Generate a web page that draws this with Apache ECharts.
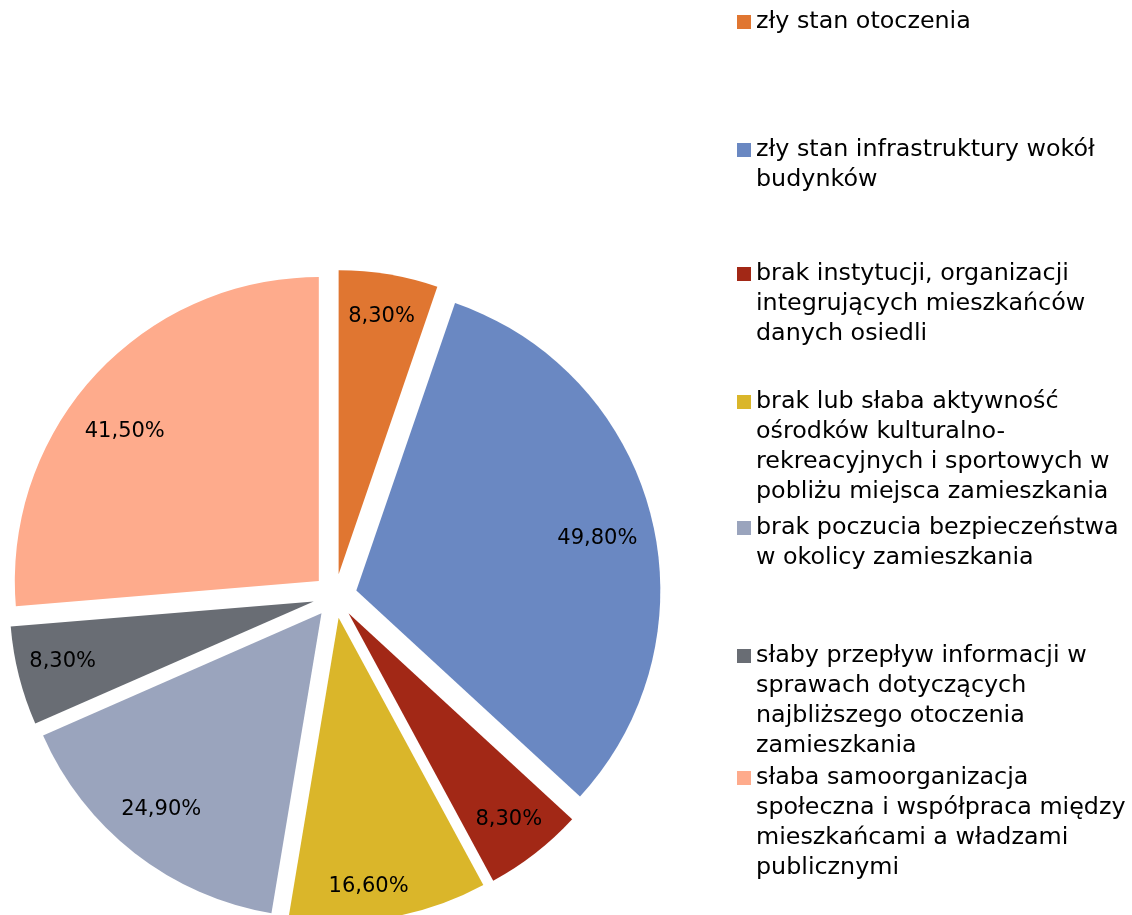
<!DOCTYPE html>
<html>
<head>
<meta charset="utf-8">
<script src="https://cdn.jsdelivr.net/npm/echarts@6/dist/echarts.min.js"></script>
<style>
    html, body { margin: 0; padding: 0; background: #fff; }
    #chart { width: 1132px; height: 915px; }
</style>
</head>
<body>
<div id="chart"></div>
<script>
// categories (legend text, wrapped as in the original)
var categories = [
    ['zły stan otoczenia'],
    ['zły stan infrastruktury wokół', 'budynków'],
    ['brak instytucji, organizacji', 'integrujących mieszkańców', 'danych osiedli'],
    ['brak lub słaba aktywność', 'ośrodków kulturalno-', 'rekreacyjnych i sportowych w', 'pobliżu miejsca zamieszkania'],
    ['brak poczucia bezpieczeństwa', 'w okolicy zamieszkania'],
    ['słaby przepływ informacji w', 'sprawach dotyczących', 'najbliższego otoczenia', 'zamieszkania'],
    ['słaba samoorganizacja', 'społeczna i współpraca między', 'mieszkańcami a władzami', 'publicznymi']
];
// share of answers, %
var percents = [8.3, 49.8, 8.3, 16.6, 24.9, 8.3, 41.5];
var colors = ['#E07631', '#6A88C2', '#A22816', '#DAB62A', '#9AA4BD', '#696D74', '#FEAB8C'];

var FONT = 'DejaVu Sans';
var names = categories.map(function (c) { return c.join(' '); });

// small nudges [right, down] so the value labels sit where the original put them
var labelNudge = [[0, 0], [-12, 12], [0, 0], [-13, 11], [0, -10], [2, -4], [-2, 27]];

function nudgeLabel(d) {
    // box stays centred: uneven side padding moves the text sideways,
    // a blank line of height 2*dy above/below moves it down/up
    var lab = {
        padding: [0, Math.max(-2 * d[0], 0), 0, Math.max(2 * d[0], 0)]
    };
    if (Math.abs(d[1]) >= 3) lab.lineHeight = 2 * Math.abs(d[1]);
    return lab;
}

var pieData = [];
for (var i = 0; i < names.length; i++) {
    pieData.push({
        name: names[i],
        value: percents[i],
        selected: true,
        itemStyle: { color: colors[i] }
    });
}

// one legend block per item, first text line level with the square
var legendLineY = [22, 150, 274, 402, 528, 656, 778];
var legends = [];
for (var i = 0; i < names.length; i++) {
    var n = categories[i].length;
    legends.push({
        data: [names[i]],
        left: 737,
        top: legendLineY[i] - (2 * n - 1) * 15,
        padding: 0,
        orient: 'vertical',
        icon: 'rect',
        itemWidth: 14,
        itemHeight: 14,
        selectedMode: false,
        formatter: (function (lines) {
            return function () {
                return new Array(lines.length).join('\n') + lines.join('\n');
            };
        })(categories[i]),
        textStyle: {
            fontFamily: FONT,
            fontSize: 23.8,
            lineHeight: 30,
            color: '#000'
        }
    });
}

var chart = echarts.init(document.getElementById('chart'));
chart.setOption({
    animation: false,
    backgroundColor: '#fff',
    legend: legends,
    series: [{
        type: 'pie',
        center: [335, 596],
        radius: [0, 304],
        startAngle: 90,
        selectedMode: 'multiple',
        selectedOffset: 22,
        silent: true,
        emphasis: { scale: false },
        label: { show: false },
        labelLine: { show: false },
        data: pieData
    }, {
        // transparent ring carrying the value labels near the rim
        type: 'pie',
        center: [335, 596],
        radius: [212, 304],
        startAngle: 90,
        selectedMode: 'multiple',
        selectedOffset: 22,
        silent: true,
        emphasis: { scale: false },
        itemStyle: { color: 'rgba(0,0,0,0)' },
        label: {
            show: true,
            position: 'inside',
            fontFamily: FONT,
            fontSize: 21,
            color: '#000',
            formatter: function (p) {
                var txt = p.value.toFixed(2).replace('.', ',') + '%';
                var dy = labelNudge[p.dataIndex][1];
                if (dy >= 3) return '\n' + txt;
                if (dy <= -3) return txt + '\n';
                return txt;
            }
        },
        labelLine: { show: false },
        data: pieData.map(function (d, i) {
            return { name: d.name, value: d.value, selected: true, label: nudgeLabel(labelNudge[i]) };
        })
    }]
});
</script>
</body>
</html>
